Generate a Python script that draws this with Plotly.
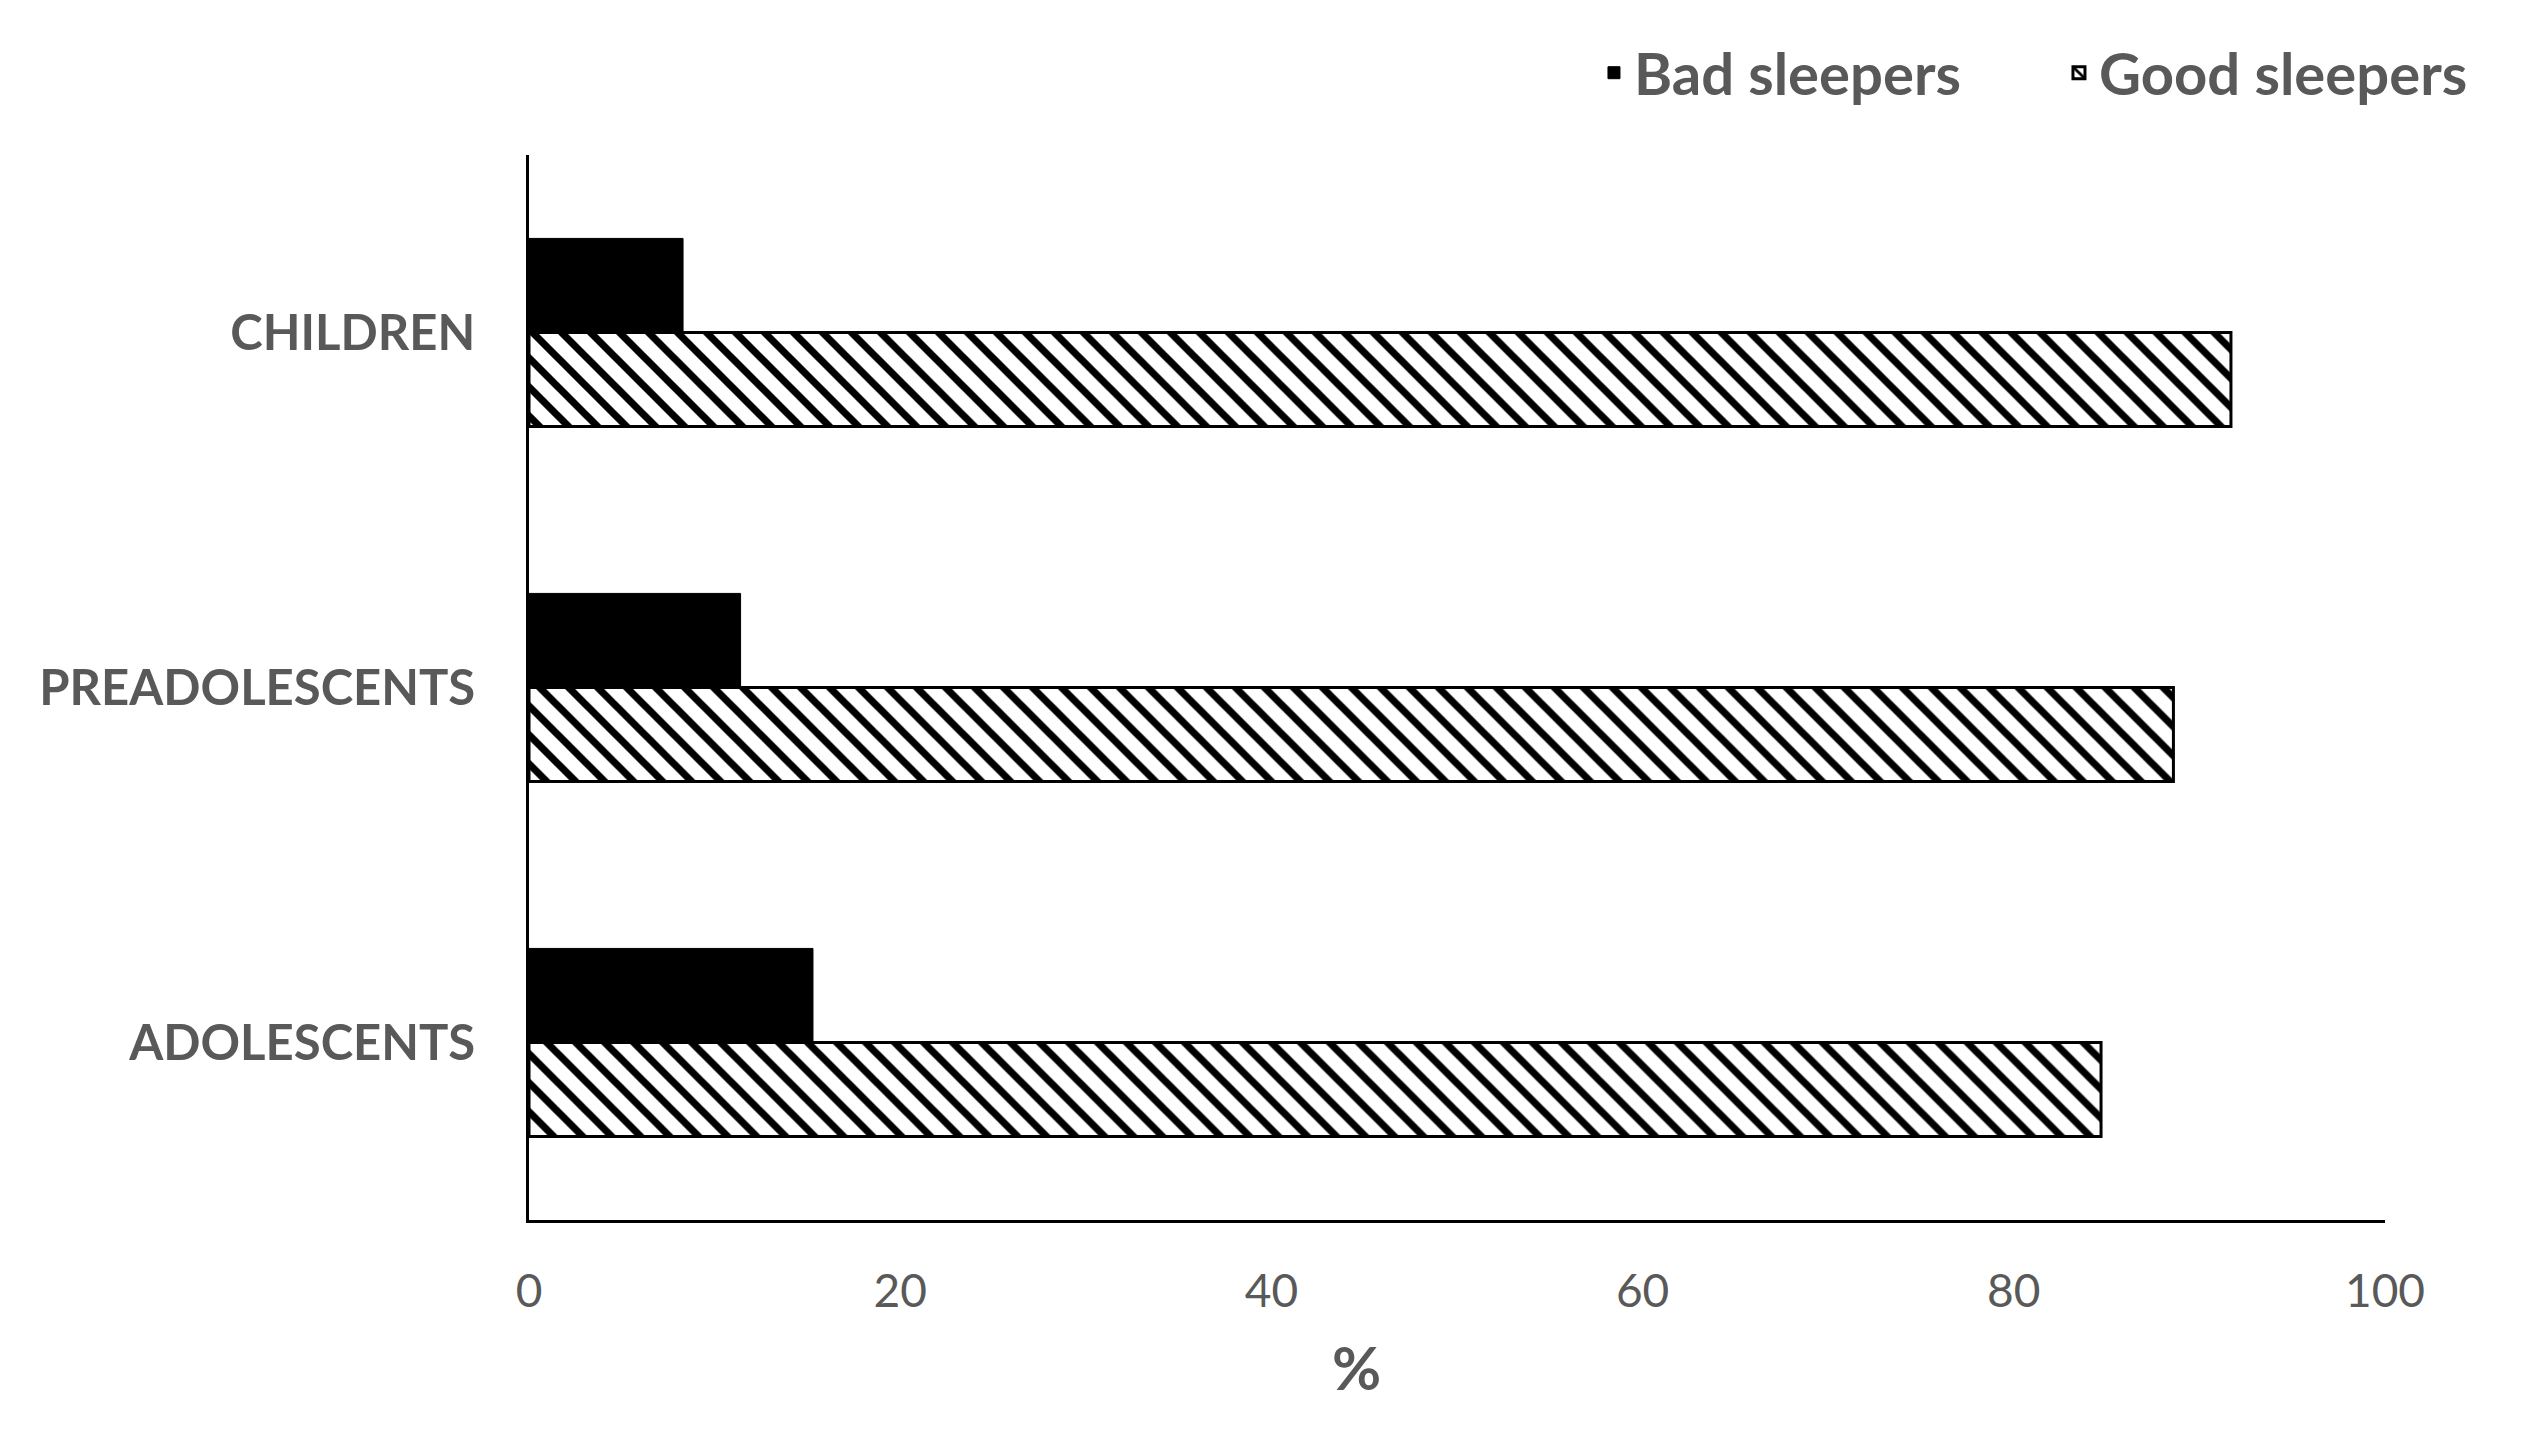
import plotly.graph_objects as go

categories = ["ADOLESCENTS", "PREADOLESCENTS", "CHILDREN"]
bad_sleepers = [15.3, 11.4, 8.3]
good_sleepers = [84.7, 88.6, 91.7]
x_ticks = [0, 20, 40, 60, 80, 100]

GREY = "#595959"
FONT = "Lato"

fig = go.Figure()

fig.add_trace(go.Bar(
    y=categories, x=good_sleepers, orientation="h", name="Good sleepers",
    legendrank=2,
    marker=dict(
        color="white",
        line=dict(color="black", width=3),
        pattern=dict(shape="\\", fgcolor="black", bgcolor="white",
                     size=20.5, solidity=0.35, fillmode="replace"),
    ),
))
fig.add_trace(go.Bar(
    y=categories, x=bad_sleepers, orientation="h", name="Bad sleepers",
    legendrank=1,
    marker=dict(color="black", line=dict(color="black", width=1)),
))

fig.update_layout(
    width=2535, height=1437,
    margin=dict(l=529, r=150, t=155, b=217, autoexpand=False),
    paper_bgcolor="white", plot_bgcolor="white",
    barmode="group", bargap=0.47, bargroupgap=0,
    font=dict(family=FONT, color=GREY),
    showlegend=True,
    legend=dict(
        orientation="h", x=0.5738, xanchor="left", y=1.077, yanchor="middle",
        entrywidth=420, entrywidthmode="pixels",
        font=dict(family=FONT, size=58, color=GREY, weight="bold"),
        bgcolor="rgba(0,0,0,0)",
    ),
    xaxis=dict(
        range=[0, 100], tickvals=x_ticks, ticktext=[str(v) for v in x_ticks],
        showgrid=False, zeroline=False, showline=True, linecolor="black",
        linewidth=3, ticks="", ticklabelstandoff=29,
        tickfont=dict(family=FONT, size=46, color=GREY),
    ),
    yaxis=dict(
        categoryorder="array", categoryarray=categories,
        showgrid=False, zeroline=False, showline=True, linecolor="black",
        linewidth=3, ticks="", ticklabelstandoff=41,
        tickfont=dict(family=FONT, size=49, color=GREY, weight="bold"),
    ),
    annotations=[dict(
        text="%", xref="paper", yref="paper", x=0.446, y=-0.138,
        xanchor="center", yanchor="middle", showarrow=False,
        font=dict(family=FONT, size=60, color=GREY, weight="bold"),
    )],
)

fig.write_html("out.html", config={"displayModeBar": False},
               post_script="document.body.style.margin='0';")
